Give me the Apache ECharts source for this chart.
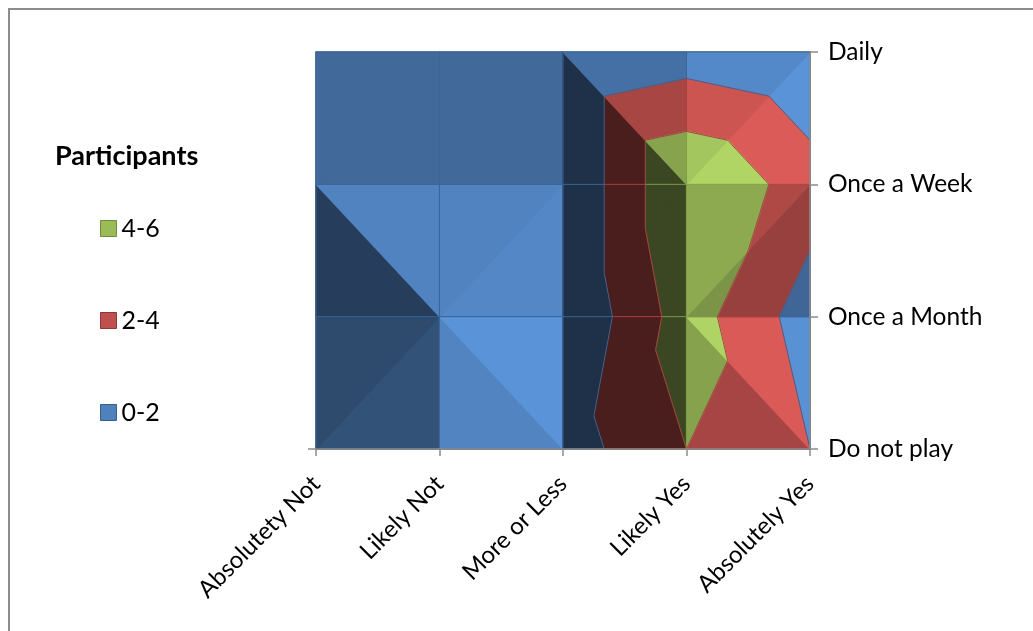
<!DOCTYPE html>
<html>
<head>
<meta charset="utf-8">
<script src="https://cdn.jsdelivr.net/npm/echarts@6/dist/echarts.min.js"></script>
<style>
  html, body { margin: 0; padding: 0; background: #ffffff; }
  #chart { width: 1033px; height: 631px; }
</style>
</head>
<body>
<div id="chart"></div>
<script>
// Answer categories along the bottom axis, play frequency along the right axis
const answers = ['Absolutety Not', 'Likely Not', 'More or Less', 'Likely Yes', 'Absolutely Yes'];
const frequencies = ['Do not play', 'Once a Month', 'Once a Week', 'Daily'];

// Participant counts for each answer, ordered from 'Do not play' up to 'Daily'
const absolutelyNot = [1, 0.2, 0, 0];
const likelyNot     = [1.8, 1.6, 0, 0];
const moreOrLess    = [1, 0, 0, 0];
const likelyYes     = [4, 5, 6, 1];
const absolutelyYes = [2, 1, 3, 0];

// Value bands of the surface
const bandNames  = ['0-2', '2-4', '4-6'];
const bandLimits = [0, 2, 4, 6];
const legendOrder = ['4-6', '2-4', '0-2'];

const bandColors       = ['#4F81BD', '#C0504D', '#9BBB59'];
const bandEdgeColors   = ['#3A6597', '#A84240', '#7D9B45'];
const bandBorderColors = ['#385D8A', '#8C3836', '#71893F'];
const axisColor = '#8C8C8C';
const FONT = 'Lato';

const surface = [absolutelyNot, likelyNot, moreOrLess, likelyYes, absolutelyYes];
const NC = answers.length, NR = frequencies.length;

// ---- split every grid cell into two triangles (along the diagonal with the larger sum)
const triangles = [];
for (let c = 0; c < NC - 1; c++) {
  for (let r = 0; r < NR - 1; r++) {
    const BL = [c, r, surface[c][r]];
    const BR = [c + 1, r, surface[c + 1][r]];
    const TL = [c, r + 1, surface[c][r + 1]];
    const TR = [c + 1, r + 1, surface[c + 1][r + 1]];
    if (BL[2] + TR[2] >= TL[2] + BR[2]) {
      triangles.push([BL, BR, TR], [BL, TR, TL]);
    } else {
      triangles.push([TL, BL, BR], [TL, BR, TR]);
    }
  }
}

// ---- simple directional lighting of each facet (light from the right and the top)
const AMBIENT = 0.38, HEIGHT_SCALE = 0.5, LIGHT = [0.52, 0.466, 0.44];
function facetLight(t) {
  const e1 = [t[1][0] - t[0][0], t[1][1] - t[0][1], t[1][2] - t[0][2]];
  const e2 = [t[2][0] - t[0][0], t[2][1] - t[0][1], t[2][2] - t[0][2]];
  const nx = e1[1] * e2[2] - e1[2] * e2[1];
  const ny = e1[2] * e2[0] - e1[0] * e2[2];
  const nz = e1[0] * e2[1] - e1[1] * e2[0];
  const a = -nx / nz;   // rise per column, to the right
  const b = ny / nz;    // rise per row, downwards on screen
  const s = HEIGHT_SCALE;
  const dot = (-a * s * LIGHT[0] + b * s * LIGHT[1] + LIGHT[2]) / Math.sqrt(1 + s * s * (a * a + b * b));
  return Math.min(1.14, AMBIENT + Math.max(0, dot));
}
function shade(hex, f) {
  const n = parseInt(hex.slice(1), 16);
  const ch = [(n >> 16) & 255, (n >> 8) & 255, n & 255].map(v => Math.max(0, Math.min(255, Math.round(v * f))));
  return 'rgb(' + ch.join(',') + ')';
}
const facetShade = triangles.map(facetLight);

// ---- pixel position of a (fractional) grid position through the axes
function toPx(api, c, r) {
  const o = api.coord([0, 0]), px = api.coord([1, 0]), py = api.coord([0, 1]);
  return [o[0] + c * (px[0] - o[0]) + r * (py[0] - o[0]),
          o[1] + c * (px[1] - o[1]) + r * (py[1] - o[1])];
}

// keep the part of a polygon above (or below) a level, interpolating linearly
function clipLevel(poly, level, keepAbove) {
  const out = [];
  for (let i = 0; i < poly.length; i++) {
    const p = poly[i], q = poly[(i + 1) % poly.length];
    const pin = keepAbove ? p[2] >= level : p[2] <= level;
    const qin = keepAbove ? q[2] >= level : q[2] <= level;
    if (pin) out.push(p);
    if (pin !== qin) {
      const t = (level - p[2]) / (q[2] - p[2]);
      out.push([p[0] + t * (q[0] - p[0]), p[1] + t * (q[1] - p[1]), level]);
    }
  }
  return out;
}

function bandRenderer(k) {
  const lo = k === 0 ? -Infinity : bandLimits[k];
  const hi = k === bandNames.length - 1 ? Infinity : bandLimits[k + 1];
  return function (params, api) {
    const n = params.dataIndex;
    let poly = triangles[n].map(v => v.slice());
    poly = clipLevel(poly, lo, true);
    poly = clipLevel(poly, hi, false);
    if (poly.length < 3) return null;
    const color = shade(bandColors[k], facetShade[n]);
    return {
      type: 'polygon',
      shape: { points: poly.map(p => toPx(api, p[0], p[1])) },
      style: { fill: color, stroke: color, lineWidth: 1.2, lineJoin: 'bevel' }
    };
  };
}

function bandOf(z) {
  for (let k = 0; k < bandNames.length - 1; k++) if (z < bandLimits[k + 1]) return k;
  return bandNames.length - 1;
}

// ---- wire lines: grid edges split by band, plus band boundaries
const levels = bandLimits.slice(1, -1);
const segments = [];
function addEdge(a, b) {
  const ts = [0, 1];
  levels.forEach(L => {
    if ((a[2] - L) * (b[2] - L) < 0) ts.push((L - a[2]) / (b[2] - a[2]));
  });
  ts.sort((x, y) => x - y);
  for (let i = 0; i < ts.length - 1; i++) {
    const t0 = ts[i], t1 = ts[i + 1];
    if (t1 - t0 < 1e-6) continue;
    const zm = a[2] + (t0 + t1) / 2 * (b[2] - a[2]);
    segments.push([a[0] + t0 * (b[0] - a[0]), a[1] + t0 * (b[1] - a[1]),
                   a[0] + t1 * (b[0] - a[0]), a[1] + t1 * (b[1] - a[1]),
                   bandEdgeColors[bandOf(zm)]]);
  }
}
for (let c = 0; c < NC; c++) {
  for (let r = 0; r < NR; r++) {
    const p = [c, r, surface[c][r]];
    if (c < NC - 1) addEdge(p, [c + 1, r, surface[c + 1][r]]);
    if (r < NR - 1) addEdge(p, [c, r + 1, surface[c][r + 1]]);
  }
}
triangles.forEach(t => {
  levels.forEach((L, li) => {
    const pts = [];
    for (let i = 0; i < 3; i++) {
      const p = t[i], q = t[(i + 1) % 3];
      if (p[2] === L) pts.push([p[0], p[1]]);
      else if ((p[2] - L) * (q[2] - L) < 0) {
        const f = (L - p[2]) / (q[2] - p[2]);
        pts.push([p[0] + f * (q[0] - p[0]), p[1] + f * (q[1] - p[1])]);
      }
    }
    if (pts.length === 2) segments.push([pts[0][0], pts[0][1], pts[1][0], pts[1][1], bandEdgeColors[li]]);
  });
});

const bandSeries = bandNames.map((name, k) => ({
  type: 'custom',
  name: name,
  coordinateSystem: 'cartesian2d',
  xAxisIndex: 0,
  yAxisIndex: 0,
  silent: true,
  z: 2,
  itemStyle: { color: bandColors[k] },
  renderItem: bandRenderer(k),
  data: triangles.map(t => [t[0][0], t[0][1]])
}));

const wireSeries = {
  type: 'custom',
  name: 'wire',
  coordinateSystem: 'cartesian2d',
  xAxisIndex: 0,
  yAxisIndex: 0,
  silent: true,
  z: 3,
  renderItem: function (params, api) {
    const s = segments[params.dataIndex];
    const p1 = toPx(api, s[0], s[1]), p2 = toPx(api, s[2], s[3]);
    return {
      type: 'line',
      shape: { x1: p1[0], y1: p1[1], x2: p2[0], y2: p2[1] },
      style: { stroke: s[4], lineWidth: 1 }
    };
  },
  data: segments.map(() => [0, 0])
};

const chart = echarts.init(document.getElementById('chart'), null, { renderer: 'canvas' });
chart.setOption({
  animation: false,
  backgroundColor: '#ffffff',
  textStyle: { fontFamily: FONT },
  title: {
    text: 'Participants',
    left: 50,
    top: 138,
    textStyle: { fontFamily: FONT, fontSize: 27, fontWeight: 'bold', color: '#000000' }
  },
  legend: {
    orient: 'vertical',
    left: 95,
    top: 211,
    itemWidth: 16,
    itemHeight: 16,
    itemGap: 67,
    icon: 'rect',
    selectedMode: false,
    textStyle: { fontFamily: FONT, fontSize: 25, color: '#000000', lineHeight: 25 },
    data: legendOrder.map(name => {
      const k = bandNames.indexOf(name);
      return { name: name, itemStyle: { color: bandColors[k], borderColor: bandBorderColors[k], borderWidth: 1 } };
    })
  },
  grid: {
    left: 316, top: 52, width: 494, height: 397,
    show: true, borderColor: '#A6A6A6', borderWidth: 2, backgroundColor: 'transparent'
  },
  xAxis: {
    type: 'category',
    data: answers,
    boundaryGap: false,
    z: 10,
    axisLine: { show: true, lineStyle: { color: axisColor, width: 1.5 } },
    axisTick: { show: true, length: 7, interval: 0, lineStyle: { color: axisColor, width: 1.5 } },
    axisLabel: { interval: 0, rotate: 45, margin: 31, fontFamily: FONT, fontSize: 24, color: '#000000' },
    splitLine: { show: false }
  },
  yAxis: [{
    type: 'category',
    data: frequencies,
    position: 'right',
    boundaryGap: false,
    z: 10,
    axisLine: { show: true, lineStyle: { color: axisColor, width: 1.5 } },
    axisTick: { show: true, length: 8, interval: 0, lineStyle: { color: axisColor, width: 1.5 } },
    axisLabel: { interval: 0, margin: 18, padding: [5, 0, 0, 0], fontFamily: FONT, fontSize: 24.5, color: '#000000' },
    splitLine: { show: false }
  }, {
    type: 'value',
    position: 'left',
    min: 0, max: 1, interval: 1,
    z: 10,
    axisLine: { show: false },
    axisTick: { show: true, length: 8, customValues: [0], lineStyle: { color: axisColor, width: 1.5 } },
    axisLabel: { show: false },
    splitLine: { show: false }
  }],
  graphic: [{
    type: 'polyline',
    silent: true,
    shape: { points: [[9, 700], [9, 9], [1100, 9]] },
    style: { stroke: '#8C8C8C', lineWidth: 2, fill: null }
  }],
  series: bandSeries.concat([wireSeries])
});
</script>
</body>
</html>
